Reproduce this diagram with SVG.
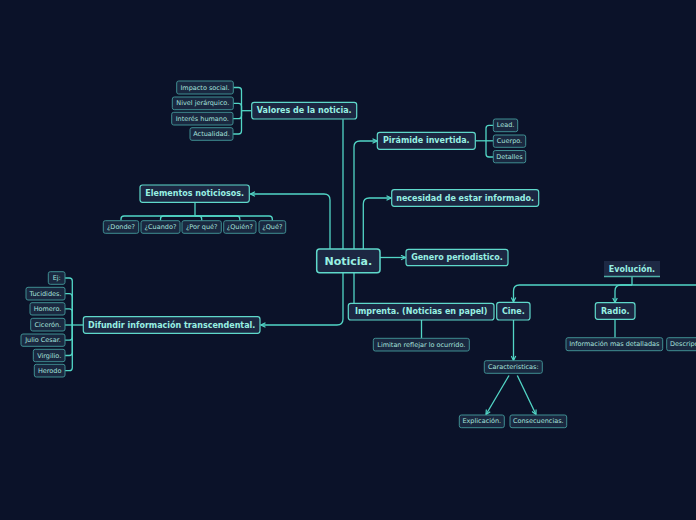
<svg xmlns="http://www.w3.org/2000/svg" width="696" height="520" viewBox="0 0 696 520">
<defs>
<style>
.bg{fill:#0b1229}
.m rect{fill:#1c2742;stroke:#5fd9cb;stroke-width:1.2}
.m text{fill:#98f0e2;font-family:"DejaVu Sans",sans-serif;font-weight:bold;font-size:8px;text-anchor:middle;dominant-baseline:central}
.s rect{fill:#1a2840;stroke:#3f8e92;stroke-width:1}
.s text{fill:#a6e2de;font-family:"DejaVu Sans",sans-serif;font-size:6.5px;text-anchor:middle;dominant-baseline:central}
.c path{fill:none;stroke:#52d6c6;stroke-width:1.3}
.c .a{marker-end:url(#arr)}
</style>
<marker id="arr" viewBox="0 0 8 8" refX="7" refY="4" markerWidth="6" markerHeight="6" markerUnits="userSpaceOnUse" orient="auto">
<path d="M1,1 L7,4 L1,7" fill="none" stroke="#52d6c6" stroke-width="1.6"/>
</marker>
</defs>
<rect class="bg" x="0" y="0" width="696" height="520"/>

<g id="connectors" class="c">
<path class="a" d="M330,249 V200 Q330,194 324,194 H250.5"/>
<path d="M343,119.3 V249"/>
<path class="a" d="M354,249 V147 Q354,141 360,141 H377"/>
<path class="a" d="M363.3,249 V204 Q363.3,198 369.3,198 H391"/>
<path class="a" d="M380,257.5 H405.5"/>
<path class="a" d="M343,273 V319 Q343,325 337,325 H261"/>
<path d="M354,273 V303.3"/>
<path d="M421.5,320 V338.3"/>
<path d="M632,277 V285"/>
<path class="a" d="M696,285 H519.5 Q513.5,285 513.5,291 V302"/>
<path class="a" d="M632,285 H621 Q615,285 615,291 V302.5"/>
<path d="M615,319.3 V337.7"/>
<path class="a" d="M513.5,320 V360.5"/>
<path class="a" d="M509,375.5 L486,414.5"/>
<path class="a" d="M517.3,375.5 L536,414.5"/>
<path d="M251.7,110.7 H241.5"/>
<path d="M241.5,110.7 V90.5 Q241.5,87.5 238.5,87.5 H233.3"/>
<path d="M241.5,110.7 V106.3 Q241.5,103.3 238.5,103.3 H233.3"/>
<path d="M241.5,110.7 V115.7 Q241.5,118.7 238.5,118.7 H233"/>
<path d="M241.5,110.7 V131 Q241.5,134 238.5,134 H233"/>
<path d="M475.3,140.8 H486"/>
<path d="M486,140.8 V128.3 Q486,125.3 489,125.3 H493.3"/>
<path d="M486,140.8 H493.3"/>
<path d="M486,140.8 V154 Q486,157 489,157 H493.3"/>
<path d="M195,202.3 V216"/>
<path d="M195,216 H124 Q121,216 121,219 V220.7"/>
<path d="M195,216 H163.5 Q160.5,216 160.5,219 V220.7"/>
<path d="M195,216 H198.7 Q201.7,216 201.7,219 V220.7"/>
<path d="M195,216 H236.8 Q239.8,216 239.8,219 V220.7"/>
<path d="M195,216 H269.3 Q272.3,216 272.3,219 V220.7"/>
<path d="M83.3,325 H72.3"/>
<path d="M72.3,325 V281 Q72.3,278 69.3,278 H65"/>
<path d="M72.3,325 V296.7 Q72.3,293.7 69.3,293.7 H65"/>
<path d="M72.3,325 V311.8 Q72.3,308.8 69.3,308.8 H65"/>
<path d="M72.3,325 H65"/>
<path d="M72.3,325 V337.2 Q72.3,340.2 69.3,340.2 H65"/>
<path d="M72.3,325 V352.5 Q72.3,355.5 69.3,355.5 H65"/>
<path d="M72.3,325 V367.7 Q72.3,370.7 69.3,370.7 H65"/>
</g>

<g id="noticia" class="m"><rect x="316.7" y="249" width="63.3" height="23.7" rx="3" style="stroke-width:1.5"/><text x="348.3" y="261" style="font-size:11px">Noticia.</text></g>
<g id="valores" class="m"><rect x="251.7" y="102.3" width="105" height="16.7" rx="2.5"/><text x="304.2" y="110.7">Valores de la noticia.</text></g>
<g id="piramide" class="m"><rect x="377.3" y="132.3" width="98" height="17" rx="2.5"/><text x="426.3" y="140.8">Pirámide invertida.</text></g>
<g id="elementos" class="m"><rect x="140" y="185" width="109.3" height="17.3" rx="2.5"/><text x="194.7" y="193.7">Elementos noticiosos.</text></g>
<g id="necesidad" class="m"><rect x="391.7" y="189.7" width="147" height="16.6" rx="2.5"/><text x="465.2" y="198">necesidad de estar informado.</text></g>
<g id="genero" class="m"><rect x="406" y="249.3" width="102" height="16.4" rx="2.5"/><text x="457" y="257.5">Genero periodistico.</text></g>
<g id="difundir" class="m"><rect x="83.3" y="316.7" width="176.7" height="16.6" rx="2.5"/><text x="171.7" y="325">Difundir información transcendental.</text></g>
<g id="imprenta" class="m"><rect x="348.3" y="303.3" width="145.7" height="16.7" rx="2.5"/><text x="421.2" y="311.7">Imprenta. (Noticias en papel)</text></g>
<g id="cine" class="m"><rect x="496.7" y="302.3" width="33.3" height="17.7" rx="2.5"/><text x="513.4" y="311.2">Cine.</text></g>
<g id="radio" class="m"><rect x="595.3" y="302.7" width="39.7" height="16.6" rx="2.5"/><text x="615.2" y="311">Radio.</text></g>
<g id="evolucion" class="m"><rect x="604" y="261" width="56" height="16" style="fill:#1e2944;stroke:none"/><path d="M604,276.5 H660" stroke="#4fb0a8" stroke-width="1.5"/><text x="632" y="269">Evolución.</text></g>

<g id="impacto" class="s"><rect x="176.7" y="81" width="56.6" height="13" rx="2"/><text x="205" y="87.5">Impacto social.</text></g>
<g id="nivel" class="s"><rect x="172.3" y="97" width="61" height="12.7" rx="2"/><text x="202.8" y="103.3">Nivel jerárquico.</text></g>
<g id="interes" class="s"><rect x="171.7" y="112.3" width="61.3" height="12.7" rx="2"/><text x="202.3" y="118.7">Interés humano.</text></g>
<g id="actualidad" class="s"><rect x="190" y="127.7" width="43" height="12.6" rx="2"/><text x="211.5" y="134">Actualidad.</text></g>
<g id="lead" class="s"><rect x="493.3" y="119" width="24.4" height="12.7" rx="2"/><text x="505.5" y="125.3">Lead.</text></g>
<g id="cuerpo" class="s"><rect x="493.3" y="135" width="32.4" height="12.3" rx="2"/><text x="509.5" y="141.2">Cuerpo.</text></g>
<g id="detalles" class="s"><rect x="493.3" y="150.5" width="32.4" height="12.3" rx="2"/><text x="509.5" y="156.7">Detalles</text></g>
<g id="donde" class="s"><rect x="103.3" y="220.7" width="35.4" height="12.6" rx="2"/><text x="121" y="227">¿Donde?</text></g>
<g id="cuando" class="s"><rect x="141" y="220.7" width="39" height="12.6" rx="2"/><text x="160.5" y="227">¿Cuando?</text></g>
<g id="porque" class="s"><rect x="182" y="220.7" width="39.3" height="12.6" rx="2"/><text x="201.7" y="227">¿Por qué?</text></g>
<g id="quien" class="s"><rect x="223.7" y="220.7" width="32.3" height="12.6" rx="2"/><text x="239.8" y="227">¿Quién?</text></g>
<g id="que" class="s"><rect x="259" y="220.7" width="26.7" height="12.6" rx="2"/><text x="272.3" y="227">¿Qué?</text></g>
<g id="ej" class="s"><rect x="48.3" y="271.7" width="16.7" height="12.6" rx="2"/><text x="56.7" y="278">Ej:</text></g>
<g id="tucidides" class="s"><rect x="26" y="287.3" width="39" height="12.7" rx="2"/><text x="45.5" y="293.7">Tucidides.</text></g>
<g id="homero" class="s"><rect x="30" y="302.7" width="35" height="12.3" rx="2"/><text x="47.5" y="308.8">Homero.</text></g>
<g id="ciceron" class="s"><rect x="30.7" y="318.3" width="34.3" height="12.7" rx="2"/><text x="47.8" y="324.7">Cicerón.</text></g>
<g id="julio" class="s"><rect x="21" y="334" width="44" height="12.3" rx="2"/><text x="43" y="340.2">Julio Cesar.</text></g>
<g id="virgilio" class="s"><rect x="33.3" y="349.3" width="31.7" height="12.4" rx="2"/><text x="49.2" y="355.5">Virgilio.</text></g>
<g id="herodo" class="s"><rect x="34.3" y="364.3" width="30.7" height="12.7" rx="2"/><text x="49.7" y="370.7">Herodo</text></g>
<g id="limitan" class="s"><rect x="373.3" y="338.3" width="96" height="12.7" rx="2"/><text x="421.3" y="344.7">Limitan reflejar lo ocurrido.</text></g>
<g id="informacion" class="s"><rect x="566" y="337.7" width="96.7" height="13" rx="2"/><text x="614.3" y="344.2">Información mas detalladas</text></g>
<g id="descripcion" class="s"><rect x="666.7" y="337.7" width="60" height="13" rx="2"/><text x="670" y="344.2" style="text-anchor:start">Descripción.</text></g>
<g id="caracteristicas" class="s"><rect x="484.3" y="360.7" width="58" height="12.6" rx="2"/><text x="513.3" y="367">Caracteristicas:</text></g>
<g id="explicacion" class="s"><rect x="459.3" y="415" width="45" height="12.7" rx="2"/><text x="481.8" y="421.3">Explicación.</text></g>
<g id="consecuencias" class="s"><rect x="510" y="415" width="56.7" height="12.7" rx="2"/><text x="538.3" y="421.3">Consecuencias.</text></g>
</svg>
